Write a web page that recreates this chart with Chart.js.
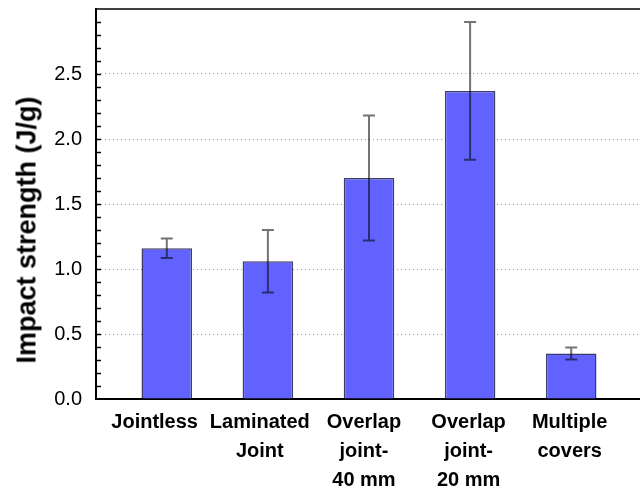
<!DOCTYPE html>
<html>
<head>
<meta charset="utf-8">
<script src="https://cdn.jsdelivr.net/npm/chart.js@4"></script>
<style>
    html, body { margin: 0; padding: 0; background: #fff; overflow: hidden; }
    #wrap { position: relative; width: 642px; height: 492px; }
    #ytitle {
        position: absolute; left: 27px; top: 230px;
        transform: translate(-50%, -50%) rotate(-90deg);
        font: bold 27px "Liberation Sans", Arial, sans-serif; color: #000; white-space: nowrap;
    }
</style>
</head>
<body>
<div id="wrap">
    <canvas id="impactChart"></canvas>
    <div id="ytitle">Impact strength (J/g)</div>
</div>
<script>
// ---- data ----
const categories = [
    ['Jointless'],
    ['Laminated', 'Joint'],
    ['Overlap', 'joint-', '40 mm'],
    ['Overlap', 'joint-', '20 mm'],
    ['Multiple', 'covers']
];
const strength = [1.16, 1.06, 1.70, 2.37, 0.35];
const strengthErr = [0.075, 0.24, 0.48, 0.53, 0.046];
const yTicks = [0.0, 0.5, 1.0, 1.5, 2.0, 2.5];

// labels in the original sit a bit left of their bars
const labelNudge = [-0.12, -0.08, -0.05, -0.015, -0.015];

// error bars + inside minor ticks + top frame line
const extras = {
    id: 'extras',
    afterDatasetsDraw(chart) {
        const { ctx, chartArea: a, scales: { x, y } } = chart;
        ctx.save();
        // error bars
        ctx.strokeStyle = 'rgba(0,0,0,0.55)';
        ctx.lineWidth = 2;
        strength.forEach((v, i) => {
            const px = x.getPixelForValue(i + 1);
            const top = y.getPixelForValue(v + strengthErr[i]);
            const bot = y.getPixelForValue(v - strengthErr[i]);
            ctx.beginPath();
            ctx.moveTo(px, top); ctx.lineTo(px, bot);
            ctx.moveTo(px - 6, top); ctx.lineTo(px + 6, top);
            ctx.moveTo(px - 6, bot); ctx.lineTo(px + 6, bot);
            ctx.stroke();
        });
        // minor ticks every 0.1, pointing inward
        ctx.strokeStyle = '#000';
        ctx.lineWidth = 1.5;
        for (let k = 1; k < 30; k++) {
            const py = Math.round(y.getPixelForValue(k / 10)) + 0.5;
            ctx.beginPath(); ctx.moveTo(a.left, py); ctx.lineTo(a.left + 5, py); ctx.stroke();
        }
        // top frame line
        ctx.lineWidth = 1.5;
        ctx.beginPath(); ctx.moveTo(a.left, a.top); ctx.lineTo(a.right, a.top); ctx.stroke();
        ctx.restore();
    }
};

new Chart(document.getElementById('impactChart'), {
    type: 'bar',
    data: {
        datasets: [{
            data: strength.map((v, i) => ({ x: i + 1, y: v })),
            backgroundColor: '#6262ff',
            borderColor: 'rgba(40,40,90,0.9)',
            borderWidth: 1.5,
            categoryPercentage: 1,
            barPercentage: 0.5
        }]
    },
    options: {
        responsive: true,
        maintainAspectRatio: false,
        animation: false,
        layout: { padding: { top: 9, right: 0, left: 0, bottom: 0 } },
        plugins: { legend: { display: false }, tooltip: { enabled: false } },
        scales: {
            x: {
                type: 'linear',
                offset: false,
                min: 0.3, max: 5.7,
                afterFit: s => { s.height = 93; s.paddingLeft = 0; s.paddingRight = 0; },
                afterBuildTicks: s => { s.ticks = categories.map((c, i) => ({ value: i + 1 + labelNudge[i], idx: i })); },
                grid: { display: false, drawTicks: false },
                border: { display: true, color: '#000', width: 2 },
                ticks: {
                    autoSkip: false, maxRotation: 0, padding: 9, color: '#000',
                    font: { family: '"Liberation Sans", Arial, sans-serif', size: 20, weight: 'bold', lineHeight: 1.45 },
                    callback: (v, i) => categories[i]
                }
            },
            y: {
                min: 0, max: 3.0,
                afterFit: s => { s.width = 96; s.paddingTop = 0; s.paddingBottom = 0; },
                afterBuildTicks: s => { s.ticks = yTicks.map(v => ({ value: v })); },
                grid: {
                    drawTicks: false,
                    color: c => (c.tick && c.tick.value > 0 && c.tick.value < 3) ? '#999' : 'transparent',
                    lineWidth: 1
                },
                border: { display: true, color: '#000', width: 2, dash: [1, 3] },
                ticks: {
                    padding: 14, color: '#000',
                    font: { family: '"Liberation Sans", Arial, sans-serif', size: 20 },
                    callback: v => v.toFixed(1)
                }
            }
        }
    },
    plugins: [extras]
});
</script>
</body>
</html>
